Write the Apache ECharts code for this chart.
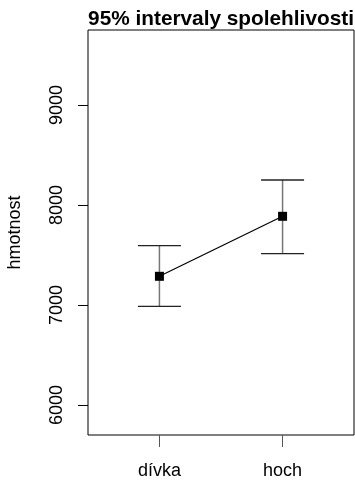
<!DOCTYPE html>
<html><head><meta charset="utf-8">
<script src="https://cdn.jsdelivr.net/npm/echarts@6/dist/echarts.min.js"></script>
<style>html,body{margin:0;padding:0;background:#fff}#c{width:355px;height:480px}</style>
</head><body><div id="c"></div>
<script>
const categories = ['dívka', 'hoch'];
const means = [7287, 7887];
const lower = [6987, 7513];
const upper = [7593, 8250];
const yTicks = [6000, 7000, 8000, 9000];
const xPos = categories.map((c, i) => i + 1);

const FONT = '"Liberation Sans", Arial, sans-serif';
const chart = echarts.init(document.getElementById('c'), null, {renderer: 'canvas'});
chart.setOption({
  animation: false,
  backgroundColor: '#fff',
  title: {
    text: '95% intervaly spolehlivosti',
    left: 216, top: 4, textAlign: 'center',
    textStyle: {fontFamily: FONT, fontSize: 20.8, fontWeight: 'bold', color: '#000'}
  },
  grid: {left: 88, right: 1, top: 30, bottom: 45, show: true, borderColor: '#000', borderWidth: 1,
    containLabel: false, outerBoundsMode: 'none'},
  xAxis: {
    type: 'value', min: 0.42, max: 2.58,
    axisLine: {show: false},
    splitLine: {show: false},
    axisTick: {show: true, length: 12, lineStyle: {color: '#555', width: 1}, customValues: xPos},
    axisLabel: {customValues: xPos, margin: 27, fontFamily: FONT, fontSize: 18, color: '#000',
      formatter: v => categories[Math.round(v) - 1] || ''}
  },
  yAxis: {
    type: 'value', min: 5700, max: 9750,
    name: 'hmotnost', nameLocation: 'middle', nameGap: 64, nameRotate: 90,
    nameTextStyle: {fontFamily: FONT, fontSize: 18, color: '#000'},
    axisLine: {show: false},
    splitLine: {show: false},
    axisTick: {show: true, length: 10, lineStyle: {color: '#000', width: 1}, customValues: yTicks},
    axisLabel: {customValues: yTicks, rotate: 90, margin: 22, fontFamily: FONT, fontSize: 18, color: '#000',
      formatter: v => String(v)}
  },
  series: [
    {
      type: 'custom',
      data: xPos.map((x, i) => [x, lower[i], upper[i]]),
      renderItem: (params, api) => {
        const x = api.value(0);
        const pLo = api.coord([x, api.value(1)]);
        const pHi = api.coord([x, api.value(2)]);
        const hw = 21.5;
        return {type: 'group', children: [
          {type: 'line', shape: {x1: pLo[0], y1: pLo[1], x2: pHi[0], y2: pHi[1]}, style: {stroke: '#777', lineWidth: 1.5}},
          {type: 'line', shape: {x1: pLo[0] - hw, y1: pLo[1], x2: pLo[0] + hw, y2: pLo[1]}, style: {stroke: '#222', lineWidth: 1.3}},
          {type: 'line', shape: {x1: pHi[0] - hw, y1: pHi[1], x2: pHi[0] + hw, y2: pHi[1]}, style: {stroke: '#222', lineWidth: 1.3}}
        ]};
      },
      z: 1
    },
    {
      type: 'line',
      data: xPos.map((x, i) => [x, means[i]]),
      symbol: 'rect', symbolSize: 9,
      itemStyle: {color: '#000'},
      lineStyle: {color: '#000', width: 1.2},
      z: 2
    }
  ]
});
</script></body></html>
